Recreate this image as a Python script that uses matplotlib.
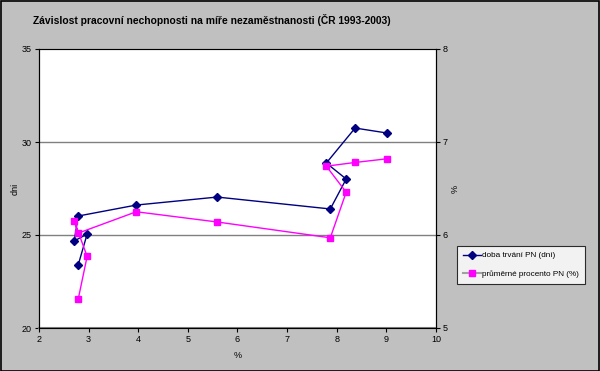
import matplotlib
matplotlib.use("Agg")
import matplotlib.pyplot as plt
from matplotlib.patches import Rectangle
from matplotlib.lines import Line2D

plt.rcParams['font.family'] = ['Liberation Sans', 'DejaVu Sans']

# unemployment rate (%) in path order
unemployment = [2.79, 2.97, 2.71, 2.79, 3.96, 5.59, 7.87, 8.19, 7.79, 8.37, 9.02]
duration_days = [23.39, 25.05, 24.68, 26.02, 26.61, 27.04, 26.40, 28.01, 28.87, 30.75, 30.48]
avg_percent = [5.31, 5.77, 6.15, 6.02, 6.25, 6.14, 5.97, 6.46, 6.74, 6.78, 6.82]

title = "Závislost pracovní nechopnosti na míře nezaměstnanosti (ČR 1993-2003)"
label1 = "doba trvání PN (dní)"
label2 = "průměrné procento PN (%)"

W, H = 600, 371
fig = plt.figure(figsize=(W/100, H/100), dpi=100)
fig.patch.set_facecolor('#C0C0C0')
fig.patches.append(Rectangle((0.5/W, 0.5/H), 1-1.5/W, 1-1.5/H, transform=fig.transFigure,
                             fill=False, edgecolor='black', linewidth=1.2))

left, right, top, bottom = 39, 436, 49, 328
ax = fig.add_axes([left/W, 1-bottom/H, (right-left)/W, (bottom-top)/H])
ax.set_facecolor('white')
ax.set_xlim(2, 10)
ax.set_ylim(20, 35)
ax.set_xticks(range(2, 11))
ax.set_yticks([20, 25, 30, 35])
for yv in [25, 30]:
    ax.axhline(yv, color='#808080', lw=1, zorder=1)
ax.spines['top'].set_color('#808080')
ax.spines['bottom'].set_color('#808080')
ax.spines['bottom'].set_linewidth(1.5)
ax.spines['left'].set_color('black')
ax.spines['right'].set_color('black')
ax.tick_params(axis='both', labelsize=6.5, length=3, width=0.8, color='black', pad=2)
ax.set_xlabel('%', fontsize=6.5, labelpad=5)
ax.set_ylabel('dni', fontsize=6.5, labelpad=2)

ax2 = ax.twinx()
ax2.set_ylim(5, 8)
ax2.set_yticks([5, 6, 7, 8])
ax2.tick_params(axis='y', labelsize=6.5, length=3, width=0.8, pad=2)
ax2.set_ylabel('%', fontsize=6.5, labelpad=2)

l1, = ax.plot(unemployment, duration_days, color='#000080', lw=1, marker='D',
              markersize=4, zorder=3, label=label1)
l2, = ax2.plot(unemployment, avg_percent, color='#FF00FF', lw=1, marker='s',
               markersize=5, zorder=3, label=label2)

h1 = Line2D([], [], color='#000080', lw=1, marker='D', markersize=4)
h2 = Line2D([], [], color='#A0A0A0', lw=1.5, marker='s', markersize=5,
            markerfacecolor='#FF00FF', markeredgecolor='#FF00FF')

fig.text(212/W, 1-20/H, title, ha='center', va='center', fontsize=7.4, fontweight='bold')

leg = fig.legend([h1, h2], [label1, label2], loc='upper left',
                 bbox_to_anchor=(457/W, 1-246/H), borderaxespad=0, fontsize=5.9, frameon=True,
                 fancybox=False, edgecolor='black', facecolor='white',
                 borderpad=0.7, labelspacing=1.3, handlelength=2.2, handletextpad=0.2)
leg.get_frame().set_linewidth(0.8)

fig.savefig('out.png', dpi=100, facecolor=fig.get_facecolor())
